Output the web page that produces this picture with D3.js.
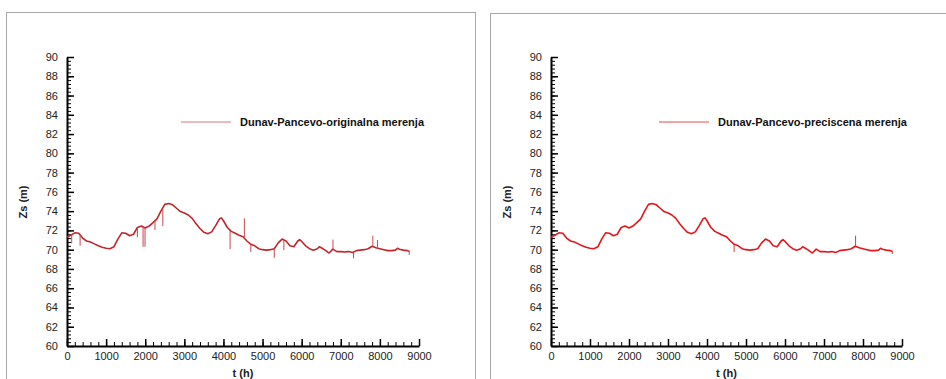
<!DOCTYPE html>
<html>
<head>
<meta charset="utf-8">
<script src="https://cdn.jsdelivr.net/npm/d3@7"></script>
<style>
  body { margin: 0; background: #fff; }
  svg { display: block; font-family: "Liberation Sans", Arial, sans-serif; }
  .tick text { font-size: 11px; fill: #222; }
</style>
</head>
<body>
<script>
// water level Zs (m) vs time t (h)
var hours = [0, 100, 200, 300, 400, 500, 600, 700, 800, 900,
             1000, 1100, 1200, 1300, 1400, 1500, 1600, 1700, 1800, 1900,
             2000, 2100, 2200, 2300, 2400, 2500, 2600, 2700, 2800, 2900,
             3000, 3100, 3200, 3300, 3400, 3500, 3600, 3700, 3800, 3900, 3950,
             4000, 4100, 4200, 4300, 4400, 4500, 4600, 4700, 4800, 4900,
             5000, 5100, 5200, 5300, 5400, 5500, 5600, 5700, 5800, 5900, 5950,
             6000, 6100, 6200, 6300, 6400, 6450, 6500, 6600, 6700, 6800, 6900,
             7000, 7100, 7200, 7300, 7400, 7500, 7600, 7700, 7800, 7900,
             8000, 8100, 8200, 8300, 8400, 8450, 8500, 8600, 8700, 8760];
var levels = [71.3, 71.5, 71.75, 71.7, 71.2, 70.9, 70.8, 70.6, 70.4, 70.25,
              70.15, 70.1, 70.3, 71.1, 71.75, 71.7, 71.45, 71.6, 72.3, 72.45,
              72.25, 72.45, 72.8, 73.2, 74.0, 74.7, 74.8, 74.65, 74.3, 73.95,
              73.8, 73.6, 73.25, 72.7, 72.2, 71.8, 71.65, 71.85, 72.5, 73.2, 73.3,
              73.0, 72.3, 71.9, 71.7, 71.5, 71.35, 70.9, 70.55, 70.4, 70.1,
              70.0, 69.95, 70.0, 70.1, 70.7, 71.1, 70.9, 70.4, 70.3, 70.9, 71.05,
              70.85, 70.4, 70.1, 69.95, 70.1, 70.3, 70.2, 69.95, 69.65, 70.05, 69.8,
              69.8, 69.75, 69.8, 69.7, 69.9, 69.95, 70.0, 70.1, 70.35, 70.2,
              70.1, 70.0, 69.9, 69.9, 69.95, 70.15, 70.05, 69.95, 69.9, 69.8];

// spikes in the original measurements: hour, level at start, level at tip
var spikeHours = [120, 335, 1800, 1945, 1995, 2250, 2450, 4170, 4535, 4700, 5300, 5545, 6800, 7325, 7820, 7940, 8750];
var spikeFrom  = [71.6, 71.6, 72.3, 72.4, 72.25, 73.0, 74.3, 72.0, 71.3, 70.55, 70.1, 71.0, 70.05, 69.7, 70.35, 70.2, 69.8];
var spikeTo    = [70.65, 70.4, 71.3, 70.3, 70.3, 72.05, 72.45, 70.05, 73.25, 69.75, 69.15, 69.95, 71.05, 69.1, 71.45, 71.0, 69.45];

// spikes left after cleaning
var cleanSpikeHours = [4695, 7810, 8750];
var cleanSpikeFrom  = [70.55, 70.35, 69.8];
var cleanSpikeTo    = [69.75, 71.45, 69.55];

var yTickLabels = [60, 62, 64, 66, 68, 70, 72, 74, 76, 78, 80, 82, 84, 86, 88, 90];
var xTickLabels = [0, 1000, 2000, 3000, 4000, 5000, 6000, 7000, 8000, 9000];

var legendOriginal = "Dunav-Pancevo-originalna merenja";
var legendClean = "Dunav-Pancevo-preciscena merenja";

var outerWidth = 946;
var outerHeight = 379;

var svg = d3.select("body").append("svg")
            .attr("width", outerWidth)
            .attr("height", outerHeight);

svg.append("rect")
   .attr("width", outerWidth)
   .attr("height", outerHeight)
   .attr("fill", "#fff");

// panel frames
svg.append("rect")
   .attr("x", 6.5).attr("y", 12.5)
   .attr("width", 469).attr("height", 420)
   .attr("fill", "none").attr("stroke", "#a8a8a8");
svg.append("rect")
   .attr("x", 490.5).attr("y", 13.5)
   .attr("width", 500).attr("height", 420)
   .attr("fill", "none").attr("stroke", "#a8a8a8");

var series = hours.map(function(h, i) { return { t: h, z: levels[i] }; });

function drawPanel(opt) {
    var x = d3.scaleLinear().domain([0, 9000]).range([opt.x0, opt.x1]);
    var y = d3.scaleLinear().domain([60, 90]).range([346, 57]);

    var g = svg.append("g");

    // minor ticks
    g.append("g")
     .attr("transform", "translate(" + opt.x0 + ",0)")
     .call(d3.axisLeft(y).tickValues(d3.range(60, 90.01, 0.4)).tickSize(-4).tickSizeOuter(0).tickFormat(""))
     .call(function(s) { s.select(".domain").remove(); s.selectAll("line").attr("stroke", "#000").attr("stroke-width", 1); });
    g.append("g")
     .attr("transform", "translate(0,346)")
     .call(d3.axisBottom(x).tickValues(d3.range(0, 9001, 200)).tickSize(-4).tickSizeOuter(0).tickFormat(""))
     .call(function(s) { s.select(".domain").remove(); s.selectAll("line").attr("stroke", "#000").attr("stroke-width", 1); });

    // major ticks + labels
    g.append("g")
     .attr("transform", "translate(" + opt.x0 + ",0)")
     .call(d3.axisLeft(y).tickValues(yTickLabels).tickSize(-7).tickSizeOuter(0).tickPadding(9).tickFormat(d3.format("d")))
     .call(function(s) {
         s.select(".domain").attr("stroke", "#000").attr("stroke-width", 2);
         s.selectAll("line").attr("stroke", "#000").attr("stroke-width", 1.5);
         s.selectAll("text").attr("font-family", null).attr("font-size", null);
     });
    g.append("g")
     .attr("transform", "translate(0,346)")
     .call(d3.axisBottom(x).tickValues(xTickLabels).tickSize(-7).tickSizeOuter(0).tickPadding(6).tickFormat(d3.format("d")))
     .call(function(s) {
         s.select(".domain").attr("stroke", "#000").attr("stroke-width", 2);
         s.selectAll("line").attr("stroke", "#000").attr("stroke-width", 1.5);
         s.selectAll("text").attr("font-family", null).attr("font-size", null);
     });

    // axis titles
    g.append("text")
     .attr("x", (opt.x0 + opt.x1) / 2)
     .attr("y", 377)
     .attr("text-anchor", "middle")
     .attr("font-size", 11)
     .attr("font-weight", "bold")
     .attr("fill", "#222")
     .text("t (h)");
    g.append("text")
     .attr("transform", "translate(" + (opt.x0 - 40) + "," + 202 + ") rotate(-90)")
     .attr("text-anchor", "middle")
     .attr("font-size", 11)
     .attr("font-weight", "bold")
     .attr("fill", "#222")
     .text("Zs (m)");

    // data
    var line = d3.line()
                 .x(function(d) { return x(d.t); })
                 .y(function(d) { return y(d.z); });
    g.append("path")
     .datum(series)
     .attr("d", line)
     .attr("fill", "none")
     .attr("stroke", opt.color)
     .attr("stroke-width", 1.6)
     .attr("stroke-linejoin", "round");

    g.selectAll(".spike")
     .data(opt.spikeHours)
     .enter()
     .append("line")
     .attr("class", "spike")
     .attr("x1", function(d) { return x(d); })
     .attr("x2", function(d) { return x(d); })
     .attr("y1", function(d, i) { return y(opt.spikeFrom[i]); })
     .attr("y2", function(d, i) { return y(opt.spikeTo[i]); })
     .attr("stroke", opt.spikeColor)
     .attr("stroke-width", 1);

    // legend
    g.append("line")
     .attr("x1", opt.legendX).attr("x2", opt.legendX + 50)
     .attr("y1", 122).attr("y2", 122)
     .attr("stroke", opt.legendColor)
     .attr("stroke-width", 1.2);
    g.append("text")
     .attr("x", opt.legendX + 59)
     .attr("y", 126)
     .attr("font-size", 11)
     .attr("font-weight", "bold")
     .attr("fill", "#111")
     .text(opt.legend);
}

drawPanel({
    x0: 67, x1: 419,
    color: "#c0262c", spikeColor: "#c8474c", legendColor: "#d6777a",
    legendX: 181, legend: legendOriginal,
    spikeHours: spikeHours, spikeFrom: spikeFrom, spikeTo: spikeTo
});

drawPanel({
    x0: 551, x1: 902,
    color: "#e3161d", spikeColor: "#e3343a", legendColor: "#e84a4e",
    legendX: 659, legend: legendClean,
    spikeHours: cleanSpikeHours, spikeFrom: cleanSpikeFrom, spikeTo: cleanSpikeTo
});
</script>
</body>
</html>
